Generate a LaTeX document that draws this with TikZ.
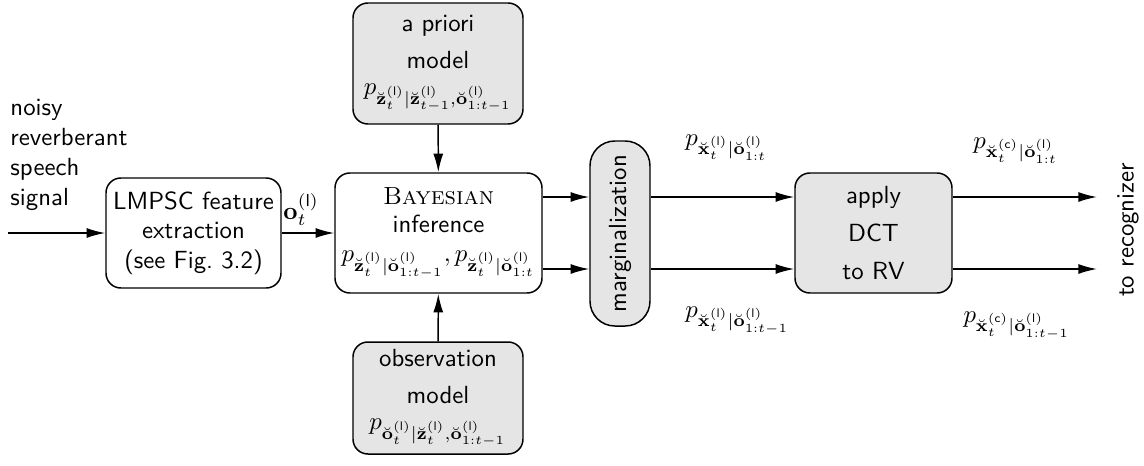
\documentclass[tikz,border=0pt]{standalone}
\usepackage{amsmath}
\usetikzlibrary{arrows.meta}
% notation
\newcommand{\lsup}{{\mathsf{(l)}}}
\newcommand{\csup}{{\mathsf{(c)}}}
\newcommand{\Zb}{\breve{\mathbf{z}}}
\newcommand{\Ob}{\breve{\mathbf{o}}}
\newcommand{\Xb}{\breve{\mathbf{x}}}
\def\pxu{0.4032pt}
\begin{document}
\begin{tikzpicture}[x=\pxu, y=-\pxu, font=\sffamily,
  blk/.style={draw, line width=0.6pt, rounded corners=6pt, align=center, inner sep=0pt, fill=white},
  gblk/.style={blk, fill=gray!20},
  arr/.style={line width=0.6pt, -{Latex[length=7.5pt,width=4pt]}},
  lbl/.style={anchor=base west, inner sep=0pt}]
\useasboundingbox (0,0) rectangle (1144,466);

% input signal
\node[align=left, anchor=north west, inner sep=0pt] (sig) at (10,99)
  {noisy\\reverberant\\speech\\signal};

% processing blocks
\node[blk, minimum width=175*\pxu, minimum height=110*\pxu] (fe) at (193.5,233)
  {LMPSC feature\\extraction\\(see Fig.~3.2)};
\node[blk, minimum width=207*\pxu, minimum height=120*\pxu] (bi) at (438.5,233)
  {\textrm{\textsc{Bayesian}}\\[-0.5pt]inference\\[-0.5pt]
   $p_{\Zb_t^{\lsup}|\Ob_{1:t-1}^{\lsup}},p_{\Zb_t^{\lsup}|\Ob_{1:t}^{\lsup}}$};
\node[gblk, minimum width=170*\pxu, minimum height=121*\pxu] (ap) at (438,63.5)
  {a priori\\[3pt]model\\[-1.5pt]
   $p_{\Zb_t^{\lsup}|\Zb_{t-1}^{\lsup},\Ob_{1:t-1}^{\lsup}}$};
\node[gblk, minimum width=170*\pxu, minimum height=112*\pxu] (om) at (438,398)
  {observation\\[3pt]model\\[-1.5pt]
   $p_{\Ob_t^{\lsup}|\Zb_t^{\lsup},\Ob_{1:t-1}^{\lsup}}$};
\node[gblk, rotate=90, rounded corners=10pt, minimum width=185*\pxu, minimum height=60*\pxu] (mg) at (620,233.5)
  {marginalization};
\node[gblk, minimum width=157*\pxu, minimum height=120*\pxu] (dct) at (873.5,233)
  {apply\\[3.3pt]DCT\\[3.3pt]to RV};
\node[rotate=90] (rec) at (1128,230) {to recognizer};

% connectors
\coordinate (in) at (8,233);
\coordinate (r1) at (0,197);
\coordinate (r2) at (0,269);
\coordinate (o1) at (1097,197);
\coordinate (o2) at (1097,269);
\draw[arr] (in) -- (fe.west);
\draw[arr] (fe) -- (bi);
\draw[arr] (ap) -- (bi);
\draw[arr] (om) -- (bi);
\draw[arr] (bi.east |- r1) -- (mg.north |- r1);
\draw[arr] (bi.east |- r2) -- (mg.north |- r2);
\draw[arr] (mg.south |- r1) -- (dct.west |- r1);
\draw[arr] (mg.south |- r2) -- (dct.west |- r2);
\draw[arr] (dct.east |- o1) -- (o1);
\draw[arr] (dct.east |- o2) -- (o2);

% signal labels
\node[lbl] (lo) at (283,219) {$\mathbf{o}_t^{\lsup}$};
\node[lbl] (lx1) at (685,145) {$p_{\Xb_t^{\lsup}|\Ob_{1:t}^{\lsup}}$};
\node[lbl] (lx2) at (685,317) {$p_{\Xb_t^{\lsup}|\Ob_{1:t-1}^{\lsup}}$};
\node[lbl] (lc1) at (973,148) {$p_{\Xb_t^{\csup}|\Ob_{1:t}^{\lsup}}$};
\node[lbl] (lc2) at (963,322) {$p_{\Xb_t^{\csup}|\Ob_{1:t-1}^{\lsup}}$};
\end{tikzpicture}
\end{document}
